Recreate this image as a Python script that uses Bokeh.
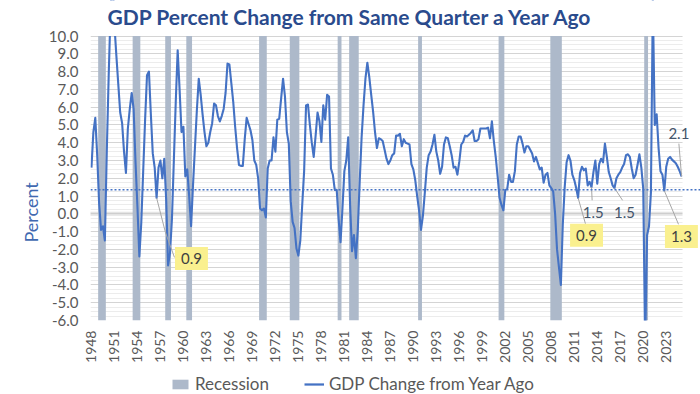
import math
from bokeh.plotting import figure
from bokeh.layouts import column
from bokeh.models import (ColumnDataSource, Span, Label, Legend, LegendItem,
                          FixedTicker, PrintfTickFormatter, Range1d, BoxAnnotation, Title)
from bokeh.embed import file_html
from bokeh.resources import INLINE

# ---------------- data ----------------
start_year = 1948  # first quarter = 1948Q1
gdp_yoy = [
    2.6, 4.6, 5.4, 3.3,        # 1948
    0.6, -0.9, -0.7, -1.5,     # 1949
    3.5, 7.8, 11.5, 13.3,      # 1950
    10.6, 8.9, 7.3, 5.7,       # 1951
    5.1, 3.5, 2.3, 4.8,        # 1952
    5.9, 6.8, 5.9, 2.9,        # 1953
    0.4, -2.4, -0.5, 2.4,      # 1954
    5.3, 7.8, 8.0, 5.6,        # 1955
    3.4, 2.6, 0.9, 2.6,        # 1956
    3.0, 2.0, 3.1, 0.8,        # 1957
    -2.9, -2.2, -0.3, 3.0,     # 1958
    6.3, 9.2, 7.0, 4.6,        # 1959
    4.9, 2.1, 2.5, 1.0,        # 1960
    -0.7, 1.6, 3.7, 5.8,       # 1961
    7.6, 6.7, 5.6, 4.6,        # 1962
    3.8, 4.0, 4.6, 5.1,        # 1963
    6.2, 6.1, 5.5, 5.2,        # 1964
    5.5, 5.9, 6.8, 8.45,       # 1965
    8.4, 7.35, 6.3, 4.9,       # 1966
    3.7, 2.75, 2.7, 2.7,       # 1967
    4.2, 5.4, 5.05, 4.7,       # 1968
    4.15, 3.0, 2.75, 2.0,      # 1969
    0.3, 0.2, 0.3, -0.2,       # 1970
    2.55, 3.0, 3.0, 4.3,       # 1971
    3.5, 5.3, 5.35, 6.5,       # 1972
    7.6, 6.6, 4.6, 3.95,       # 1973
    0.7, -0.45, -0.8, -1.95,   # 1974
    -2.35, -1.5, 0.5, 2.4,     # 1975
    6.1, 6.15, 5.0, 4.0,       # 1976
    3.2, 4.4, 5.7, 5.2,        # 1977
    4.05, 6.1, 5.3, 6.7,       # 1978
    6.6, 2.55, 2.2, 1.35,      # 1979
    1.35, -0.3, -1.6, 0.3,     # 1980
    2.4, 3.0, 4.3, 0.5,        # 1981
    -2.1, -1.2, -2.5, -0.9,    # 1982
    1.8, 4.3, 6.1, 7.6,        # 1983
    8.5, 7.7, 6.7, 5.75,       # 1984
    4.6, 3.7, 4.25, 4.2,       # 1985
    4.1, 3.6, 3.1, 2.8,        # 1986
    3.0, 3.3, 3.4, 4.4,        # 1987
    4.4, 4.5, 3.8, 4.2,        # 1988
    4.0, 3.95, 3.9, 2.8,       # 1989
    2.5, 1.9, 1.0, 0.2,        # 1990
    -0.9, -0.1, 1.2, 2.6,      # 1991
    3.3, 3.5, 3.9, 4.45,       # 1992
    3.5, 3.0, 2.25, 2.65,      # 1993
    3.9, 4.3, 4.25, 3.8,       # 1994
    3.3, 2.6, 2.65, 2.2,       # 1995
    2.95, 3.9, 4.05, 4.4,      # 1996
    4.35, 4.45, 4.55, 4.7,     # 1997
    4.1, 4.1, 4.2, 4.8,        # 1998
    4.8, 4.8, 4.8, 4.85,       # 1999
    4.25, 5.2, 4.1, 3.2,       # 2000
    2.1, 0.9, 0.5, 0.2,        # 2001
    1.35, 1.4, 2.2, 1.8,       # 2002
    1.8, 2.4, 3.9, 4.35,       # 2003
    4.35, 3.95, 3.45, 3.8,     # 2004
    3.8, 3.6, 3.4, 2.95,       # 2005
    3.2, 2.85, 2.5, 2.6,       # 2006
    1.75, 2.2, 2.3, 1.6,       # 2007
    1.45, 1.25, 0.0, -2.0,     # 2008
    -3.0, -4.0, -0.6, 1.5,     # 2009
    2.9, 3.3, 3.0, 2.2,        # 2010
    1.9, 1.45, 0.9, 2.3,       # 2011
    2.65, 2.45, 2.55, 1.6,     # 2012
    1.8, 1.5, 2.35, 3.0,       # 2013
    1.7, 2.8, 3.1, 2.9,        # 2014
    3.95, 3.2, 2.35, 2.0,      # 2015
    1.6, 1.45, 2.0, 2.2,       # 2016
    2.35, 2.6, 2.8, 3.3,       # 2017
    3.35, 3.2, 2.55, 2.0,      # 2018
    2.2, 2.75, 3.35, 2.6,      # 2019
    1.4, -7.5, -1.2, -0.7,     # 2020
    1.2, 12.0, 5.0, 5.6,       # 2021
    3.7, 2.4, 2.2, 1.3,        # 2022
    2.65, 3.1, 3.2, 3.05,      # 2023
    2.95, 2.85, 2.65, 2.4,     # 2024
    2.1,                       # 2025
]

recession_start = ["1949Q1", "1953Q3", "1957Q4", "1960Q3", "1970Q1", "1974Q1",
                   "1980Q2", "1981Q4", "1990Q4", "2001Q2", "2008Q1", "2020Q2"]
recession_end = ["1949Q4", "1954Q2", "1958Q2", "1961Q1", "1970Q4", "1975Q1",
                 "1980Q3", "1982Q4", "1991Q1", "2001Q4", "2009Q2", "2020Q3"]

tick_years = [1948, 1951, 1954, 1957, 1960, 1963, 1966, 1969, 1972, 1975,
              1978, 1981, 1984, 1987, 1990, 1993, 1996, 1999, 2002, 2005,
              2008, 2011, 2014, 2017, 2020, 2023]
y_ticks = [-6, -5, -4, -3, -2, -1, 0, 1, 2, 3, 4, 5, 6, 7, 8, 9, 10]
reference_level = 1.35
series_names = ["Recession", "GDP Change from Year Ago"]

# callouts: quarter of the marked point, text, label position, leader elbow points
callouts = [
    dict(q="1956Q3", text="0.9", lx=1961.05, ly=-2.51, hl=True,
         path=[(1957.65, -1.04), (1958.83, -2.45)]),
    dict(q="2011Q3", text="0.9", lx=2012.6, ly=-1.21, hl=True,
         path=[(2012.46, -0.56)]),
    dict(q="2013Q2", text="1.5", lx=2013.47, ly=0.07, hl=False,
         path=[(2013.33, 0.76)]),
    dict(q="2016Q2", text="1.5", lx=2017.55, ly=0.07, hl=False,
         path=[(2017.3, 0.76)]),
    dict(q="2022Q4", text="1.3", lx=2024.98, ly=-1.27, hl=True,
         path=[(2024.6, -0.59)]),
    dict(q="2025Q1", text="2.1", lx=2024.65, ly=4.54, hl=False,
         path=[(2024.65, 3.95)]),
]


def qx(qs):
    return int(qs[:4]) + (int(qs[5]) - 1) / 4.0


x_vals = [start_year + i / 4.0 for i in range(len(gdp_yoy))]
line_src = ColumnDataSource(dict(x=x_vals, y=gdp_yoy))
rec_src = ColumnDataSource(dict(
    left=[qx(s) - 0.125 for s in recession_start],
    right=[qx(e) + 0.125 for e in recession_end],
))

FONT = "Lato"
GREY = "#595959"
BAR_COLOR = "#ADB9CA"
LINE_COLOR = "#4472C4"
y_top = y_ticks[-1]
x_last_edge = x_vals[-1] + 0.125

# frame reaches the top and right canvas edges; the area outside the chart
# region is masked white so that title / callouts are not clipped
p = figure(width=700, height=366, output_backend="svg", toolbar_location=None,
           title=None,
           x_range=Range1d(start_year - 0.125, 2027.47),
           y_range=Range1d(-6, 12.0),
           min_border_left=90, min_border_right=0, min_border_top=0,
           min_border_bottom=46)
p.outline_line_color = None
p.background_fill_color = "white"
p.border_fill_color = "white"

# grid
p.xgrid.visible = False
minor = [v / 4.0 for v in range(-24, 41) if v % 4 != 0]
p.yaxis.ticker = FixedTicker(ticks=y_ticks, minor_ticks=minor)
p.ygrid.grid_line_color = "#D4D4D4"
p.ygrid.minor_grid_line_color = "#ECECEC"

# recession bars
p.quad(left="left", right="right", bottom=-6, top=y_top, source=rec_src,
       fill_color=BAR_COLOR, line_color=None)

# zero band
p.add_layout(Span(location=0, dimension="width", line_color="#C8C8C8",
                  line_width=4, line_dash="1 1", level="underlay"))

# main line
p.line("x", "y", source=line_src, line_color=LINE_COLOR,
       line_width=2.1, line_join="round")

# white masks outside the chart region (line spikes are clipped at 10)
p.add_layout(BoxAnnotation(bottom=y_top, fill_color="white", fill_alpha=1.0,
                           line_color=None, level="annotation"))
p.add_layout(BoxAnnotation(left=x_last_edge, fill_color="white", fill_alpha=1.0,
                           line_color=None, level="annotation"))

# reference dotted line
p.add_layout(Span(location=reference_level, dimension="width",
                  line_color=LINE_COLOR, line_width=1.5, line_dash="2 2"))

# callouts
for c in callouts:
    idx = int(round((qx(c["q"]) - start_year) * 4))
    px, py = x_vals[idx], gdp_yoy[idx]
    xs = [px] + [a for a, b in c["path"]]
    ys = [py] + [b for a, b in c["path"]]
    p.line(xs, ys, line_color="#A6A6A6", line_width=1)
    if c["hl"]:
        lab = Label(x=c["lx"], y=c["ly"], text=c["text"], text_align="center",
                    text_baseline="middle", text_font=FONT,
                    text_font_size="15px", text_color="#404040",
                    background_fill_color="#FAF08F", padding=6)
    else:
        lab = Label(x=c["lx"], y=c["ly"], text=c["text"], text_align="center",
                    text_baseline="middle", text_font=FONT,
                    text_font_size="15px", text_color="#44546A")
    p.add_layout(lab)

# axes
p.yaxis.formatter = PrintfTickFormatter(format="%.1f")
for ax in (p.xaxis[0], p.yaxis[0]):
    ax.axis_line_color = None
    ax.major_tick_line_color = None
    ax.minor_tick_line_color = None
    ax.major_tick_out = 0
    ax.minor_tick_out = 0
    ax.major_tick_in = 0
    ax.minor_tick_in = 0
    ax.major_label_text_font = FONT
    ax.major_label_text_color = GREY
p.yaxis.major_label_text_font_size = "15px"
p.xaxis.major_label_text_font_size = "14px"
p.yaxis.major_label_standoff = 12
p.xaxis.ticker = FixedTicker(ticks=tick_years)
p.xaxis.major_label_orientation = math.pi / 2
p.xaxis.major_label_standoff = 10

# title (inside the masked top strip) and y axis title
p.add_layout(Label(x=1981.8, y=11.12, text="GDP Percent Change from Same Quarter a Year Ago",
                   text_align="center", text_baseline="alphabetic", text_font=FONT,
                   text_font_style="bold", text_font_size="21px", text_color="#2A4B8D"))
p.add_layout(Title(text="Percent", align="left", offset=78, text_font=FONT,
                   text_font_size="18px", text_font_style="normal",
                   text_color="#4169B0", standoff=8), "left")

# legend strip (separate small figure under the chart, frames aligned)
lg = figure(width=700, height=28, output_backend="svg", toolbar_location=None,
            title=None, x_range=Range1d(0, 1), y_range=Range1d(0, 1),
            x_axis_location=None, y_axis_location=None,
            min_border_left=0, min_border_right=0, min_border_top=0,
            min_border_bottom=0)
lg.grid.visible = False
lg.outline_line_color = None
lg.border_fill_color = "white"
# swatch carriers placed outside the visible range of the strip
r_bar = lg.quad(left=[2], right=[3], top=[3], bottom=[2], fill_color=BAR_COLOR, line_color=None)
r_line = lg.line(x=[2, 3], y=[2, 2], line_color=LINE_COLOR, line_width=2.25)
legend = Legend(items=[LegendItem(label=series_names[0], renderers=[r_bar]),
                       LegendItem(label=series_names[1], renderers=[r_line])],
                location=(80, 0), orientation="horizontal",
                label_text_font=FONT, label_text_font_size="17px",
                label_text_color=GREY, glyph_width=20, glyph_height=12,
                label_standoff=5, spacing=35, padding=0, margin=0,
                border_line_color=None, background_fill_alpha=0)
lg.add_layout(legend, "center")

layout = column(p, lg, spacing=0)
open("out.html", "w").write(file_html(layout, INLINE))
